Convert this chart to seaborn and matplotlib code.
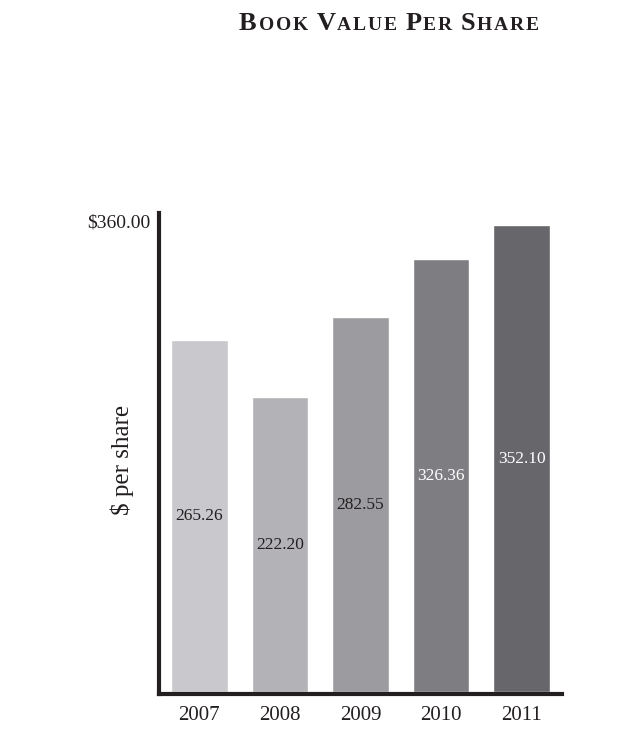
import matplotlib
matplotlib.use("Agg")
import matplotlib.pyplot as plt
import seaborn as sns
import pandas as pd
from matplotlib.offsetbox import TextArea, HPacker, AnnotationBbox

years = ["2007", "2008", "2009", "2010", "2011"]
values = [265.26, 222.20, 282.55, 326.36, 352.10]
value_labels = ["265.26", "222.20", "282.55", "326.36", "352.10"]
bar_colors = ["#c9c8cc", "#b3b2b6", "#9c9b9f", "#7e7d82", "#67666b"]
label_colors = ["#231f20", "#231f20", "#231f20", "#ffffff", "#ffffff"]
y_ticks = [360]
y_tick_labels = ["$360.00"]
title_words = ["Book", "Value", "Per", "Share"]

sns.set_theme(style="white")
plt.rcParams["font.family"] = ["Liberation Serif", "DejaVu Serif"]
ink = "#231f20"

df = pd.DataFrame({"year": years, "value": values})

fig = plt.figure(figsize=(6.19, 7.47), dpi=100)
ax = fig.add_axes([159 / 619, 53 / 747, (562 - 159) / 619, (694 - 213) / 747])

sns.barplot(data=df, x="year", y="value", hue="year", palette=bar_colors,
            legend=False, width=0.7, saturation=1, ax=ax)

for cont, lab, col in zip(ax.containers, value_labels, label_colors):
    ax.bar_label(cont, labels=[lab], label_type="center", color=col,
                 fontsize=12.5)

ax.set_xlim(-0.5, 4.5)
ax.set_ylim(-1.5, 361.2)
ax.set_yticks(y_ticks)
ax.set_yticklabels(y_tick_labels, fontsize=14, color=ink, va="top")
ax.tick_params(axis="y", length=0, pad=6)
ax.tick_params(axis="x", length=0, pad=8.5, labelsize=15, labelcolor=ink)
ax.set_xlabel("")
ax.set_ylabel("$ per share", fontsize=18, color=ink)
ax.yaxis.set_label_coords(-0.062, 0.486)

for s in ["top", "right"]:
    ax.spines[s].set_visible(False)
for s in ["left", "bottom"]:
    ax.spines[s].set_visible(True)
    ax.spines[s].set_color(ink)
    ax.spines[s].set_linewidth(3)

# small-caps title
big = dict(fontsize=19, fontweight="bold", color=ink, family="Liberation Serif")
small = dict(fontsize=14, fontweight="bold", color=ink, family="Liberation Serif")
children = []
for wi, w in enumerate(title_words):
    children.append(TextArea(w[0].upper(), textprops=big))
    for ch in w[1:]:
        children.append(TextArea(ch.upper(), textprops=small))
    if wi < len(title_words) - 1:
        children.append(TextArea(" ", textprops=small))
pack = HPacker(children=children, align="baseline", pad=0, sep=1.3)
ab = AnnotationBbox(pack, (389 / 619, 1 - 23 / 747), xycoords="figure fraction",
                    box_alignment=(0.5, 0.5), frameon=False)
fig.add_artist(ab)

fig.savefig("out.png", dpi=100)
